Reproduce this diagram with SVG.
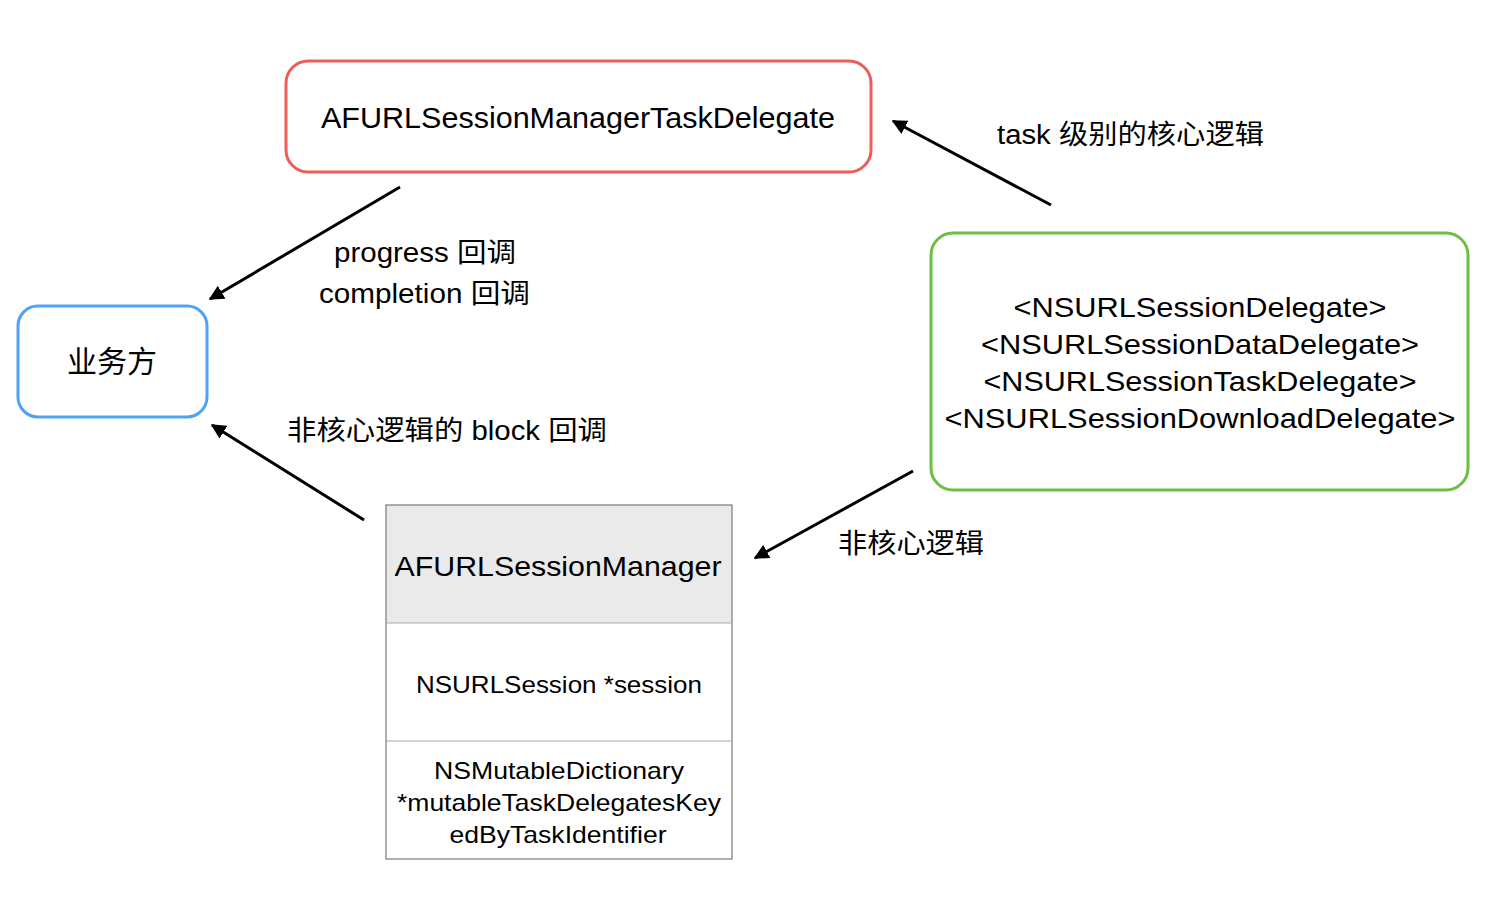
<svg xmlns="http://www.w3.org/2000/svg" width="1486" height="900" viewBox="0 0 1486 900">
<defs>
<style>
.t{font-family:"Liberation Sans","Noto Sans CJK SC",sans-serif;fill:#000;text-anchor:middle}
.lbl{font-family:"Liberation Sans","Noto Sans CJK SC",sans-serif;fill:#000;font-size:27px}
.conn{stroke:#000;stroke-width:3;fill:none;marker-end:url(#ah)}
</style>
<marker id="ah" viewBox="0 0 10 10" refX="9" refY="5" markerWidth="5" markerHeight="5" orient="auto" markerUnits="strokeWidth">
<path d="M0,0 L10,5 L0,10 z" fill="#000"/>
</marker>
</defs>
<rect width="1486" height="900" fill="#fff"/>
<g id="taskDelegate">
<rect x="286" y="61" width="585" height="111" rx="22" fill="#fff" stroke="#EC5F59" stroke-width="3"/>
<text class="t" x="578" y="128" font-size="29" textLength="514" lengthAdjust="spacingAndGlyphs">AFURLSessionManagerTaskDelegate</text>
</g>
<g id="protocols">
<rect x="931" y="233" width="537" height="257" rx="22" fill="#fff" stroke="#6DBE45" stroke-width="3"/>
<text class="t" x="1200" y="317" font-size="28" textLength="373" lengthAdjust="spacingAndGlyphs">&lt;NSURLSessionDelegate&gt;</text>
<text class="t" x="1200" y="354" font-size="28" textLength="438" lengthAdjust="spacingAndGlyphs">&lt;NSURLSessionDataDelegate&gt;</text>
<text class="t" x="1200" y="391" font-size="28" textLength="433" lengthAdjust="spacingAndGlyphs">&lt;NSURLSessionTaskDelegate&gt;</text>
<text class="t" x="1200" y="428" font-size="28" textLength="511" lengthAdjust="spacingAndGlyphs">&lt;NSURLSessionDownloadDelegate&gt;</text>
</g>
<g id="business">
<rect x="18" y="306" width="189" height="111" rx="20" fill="#fff" stroke="#4FA3F7" stroke-width="3"/>
<text class="t" x="112" y="372" font-size="30">业务方</text>
</g>
<g id="sessionManager">
<rect x="386" y="505" width="346" height="118" fill="#EAEAEA"/>
<rect x="386" y="505" width="346" height="354" fill="none" stroke="#7A7A7A" stroke-width="1.2"/>
<line x1="386" y1="623" x2="732" y2="623" stroke="#AAAAAA" stroke-width="1"/>
<line x1="386" y1="741" x2="732" y2="741" stroke="#AAAAAA" stroke-width="1"/>
<text class="t" x="558" y="576" font-size="28" textLength="327" lengthAdjust="spacingAndGlyphs">AFURLSessionManager</text>
<text class="t" x="559" y="693" font-size="24" textLength="286" lengthAdjust="spacingAndGlyphs">NSURLSession *session</text>
<text class="t" x="559" y="779" font-size="24" textLength="250" lengthAdjust="spacingAndGlyphs">NSMutableDictionary</text>
<text class="t" x="559" y="811" font-size="24" textLength="324" lengthAdjust="spacingAndGlyphs">*mutableTaskDelegatesKey</text>
<text class="t" x="558" y="843" font-size="24" textLength="217" lengthAdjust="spacingAndGlyphs">edByTaskIdentifier</text>
</g>
<g id="connectors">
<line class="conn" x1="400" y1="187" x2="210" y2="299"/>
<line class="conn" x1="1051" y1="205" x2="893" y2="121"/>
<line class="conn" x1="364" y1="520" x2="212" y2="425"/>
<line class="conn" x1="913" y1="471" x2="755" y2="558"/>
</g>
<g id="labels">
<text class="lbl" x="997" y="144" textLength="267" lengthAdjust="spacingAndGlyphs">task 级别的核心逻辑</text>
<text class="lbl" x="334" y="262" textLength="182" lengthAdjust="spacingAndGlyphs">progress 回调</text>
<text class="lbl" x="319" y="303" textLength="211" lengthAdjust="spacingAndGlyphs">completion 回调</text>
<text class="lbl" x="287" y="440" textLength="320" lengthAdjust="spacingAndGlyphs">非核心逻辑的 block 回调</text>
<text class="lbl" x="838" y="553" textLength="146" lengthAdjust="spacingAndGlyphs">非核心逻辑</text>
</g>
</svg>
